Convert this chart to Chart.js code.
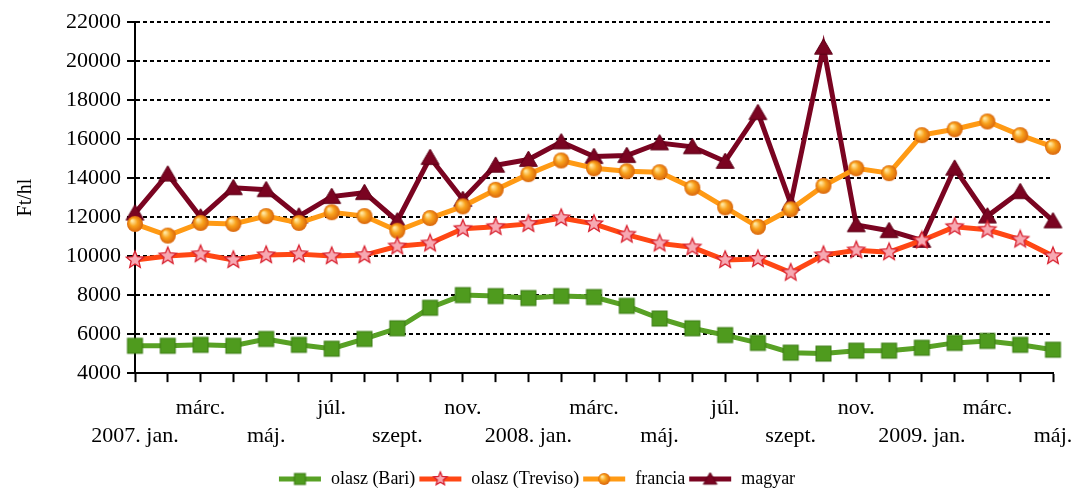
<!DOCTYPE html>
<html>
<head>
<meta charset="utf-8">
<script src="https://cdn.jsdelivr.net/npm/chart.js@4/dist/chart.umd.min.js"></script>
<style>
  html, body { margin: 0; padding: 0; background: #fff; }
  #wrap { width: 1075px; height: 489px; }
</style>
</head>
<body>
<div id="wrap"><canvas id="chart"></canvas></div>
<script>
// monthly data, 2007 jan .. 2009 máj
const months = [
  "2007. jan.", "febr.", "márc.", "ápr.", "máj.", "jún.", "júl.", "aug.", "szept.", "okt.", "nov.", "dec.",
  "2008. jan.", "febr.", "márc.", "ápr.", "máj.", "jún.", "júl.", "aug.", "szept.", "okt.", "nov.", "dec.",
  "2009. jan.", "febr.", "márc.", "ápr.", "máj."
];
const seriesNames = ["olasz (Bari)", "olasz (Treviso)", "francia", "magyar"];

const bari = [5400, 5400, 5450, 5400, 5750, 5450, 5250, 5750, 6300, 7350, 8000, 7950,
  7850, 7950, 7900, 7450, 6800, 6300, 5950, 5550, 5050, 5000, 5150, 5150,
  5300, 5550, 5650, 5450, 5200];
const treviso = [9800, 10000, 10100, 9800, 10050, 10100, 10000, 10050, 10500, 10650, 11400, 11500,
  11650, 11950, 11650, 11100, 10650, 10450, 9800, 9850, 9150, 10050, 10300, 10200,
  10800, 11500, 11350, 10850, 10000];
const francia = [11650, 11050, 11700, 11650, 12050, 11700, 12250, 12050, 11300, 11950, 12550, 13400,
  14200, 14900, 14500, 14350, 14300, 13500, 12500, 11500, 12400, 13600, 14500, 14250,
  16200, 16500, 16900, 16200, 15600];
const magyar = [12200, 14200, 12000, 13500, 13400, 12050, 13050, 13250, 11800, 15050, 12900, 14650,
  14950, 15850, 15100, 15150, 15800, 15600, 14850, 17350, 12700, 20700, 11600, 11300,
  10800, 14500, 12050, 13300, 11800];

const yTicks = { min: 4000, max: 22000, step: 2000 };
const FONT = "'Liberation Serif', 'DejaVu Serif', serif";

Chart.defaults.font.family = FONT;
Chart.defaults.font.size = 17;
Chart.defaults.color = "#000";

// marker images
function marker(kind, s) {
  const c = document.createElement("canvas");
  c.width = s + 4; c.height = s + 4;
  const g = c.getContext("2d");
  const cx = c.width / 2, cy = c.height / 2, r = s / 2;
  if (kind === "square") {
    g.fillStyle = "#4f9b1e"; g.strokeStyle = "#3c7d15"; g.lineWidth = 1;
    g.fillRect(cx - r, cy - r, s, s); g.strokeRect(cx - r, cy - r, s, s);
  } else if (kind === "star") {
    g.beginPath();
    for (let i = 0; i < 10; i++) {
      const a = -Math.PI / 2 + i * Math.PI / 5;
      const rr = i % 2 ? r * 0.45 : r;
      g.lineTo(cx + rr * Math.cos(a), cy + rr * Math.sin(a));
    }
    g.closePath();
    g.fillStyle = "#f7a8b2"; g.fill();
    g.strokeStyle = "#d8202e"; g.lineWidth = 1.3; g.stroke();
  } else if (kind === "ball") {
    const gr = g.createRadialGradient(cx - r * 0.35, cy - r * 0.4, r * 0.1, cx, cy, r);
    gr.addColorStop(0, "#ffe7a0"); gr.addColorStop(0.45, "#f9a21c"); gr.addColorStop(1, "#d9650a");
    g.beginPath(); g.arc(cx, cy, r, 0, Math.PI * 2); g.fillStyle = gr; g.fill();
  } else if (kind === "tri") {
    g.beginPath();
    g.moveTo(cx, cy - r); g.lineTo(cx + r * 1.05, cy + r * 0.8); g.lineTo(cx - r * 1.05, cy + r * 0.8);
    g.closePath();
    g.fillStyle = "#7a0421"; g.fill(); g.strokeStyle = "#5e0018"; g.lineWidth = 1; g.stroke();
  }
  return c;
}
function legendIcon(kind, color, s) {
  const c = document.createElement("canvas");
  c.width = 44; c.height = 18;
  const g = c.getContext("2d");
  g.strokeStyle = color; g.lineWidth = 5;
  g.beginPath(); g.moveTo(1, 9); g.lineTo(43, 9); g.stroke();
  const m = marker(kind, s);
  g.drawImage(m, 22 - m.width / 2, 9 - m.height / 2);
  return c;
}

const styles = [
  { data: bari, color: "#58a125", kind: "square", size: 15 },
  { data: treviso, color: "#ff4714", kind: "star", size: 18 },
  { data: francia, color: "#ff9a14", kind: "ball", size: 16 },
  { data: magyar, color: "#7a0421", kind: "tri", size: 17 }
];

const datasets = styles.map((st, i) => ({
  label: seriesNames[i],
  data: st.data,
  borderColor: st.color,
  backgroundColor: st.color,
  borderWidth: 5,
  pointStyle: marker(st.kind, st.size),
  pointRadius: 8,
  tension: 0
}));

// two-row axis labels: every second month, alternating rows
function tickLabel(i) {
  if (i % 2) return "";
  return (i / 2) % 2 ? [months[i], ""] : ["", months[i]];
}

new Chart(document.getElementById("chart"), {
  type: "line",
  data: { labels: months, datasets: datasets },
  options: {
    responsive: true,
    maintainAspectRatio: false,
    animation: false,
    layout: { padding: { left: 20, right: 22, top: 22, bottom: -9 } },
    plugins: {
      tooltip: { enabled: false },
      legend: {
        position: "bottom",
        labels: {
          usePointStyle: true,
          pointStyleWidth: 44,
          boxHeight: 17,
          padding: 3,
          color: "#000",
          font: { family: FONT, size: 18 },
          generateLabels: (chart) => chart.data.datasets.map((ds, i) => ({
            text: ds.label,
            pointStyle: legendIcon(styles[i].kind, styles[i].color, styles[i].size - 4),
            fillStyle: ds.borderColor,
            strokeStyle: ds.borderColor,
            fontColor: "#000",
            lineWidth: 0,
            hidden: false,
            datasetIndex: i
          }))
        }
      }
    },
    scales: {
      x: {
        offset: false,
        afterFit: (s) => { s.paddingRight = 0; s.height += 5; },
        grid: { drawOnChartArea: false, drawTicks: true, tickLength: 9, tickColor: "#000", tickWidth: 2 },
        border: { display: true, color: "#000", width: 2 },
        ticks: {
          autoSkip: false, maxRotation: 0, minRotation: 0, padding: 12,
          color: "#000", font: { family: FONT, size: 22, lineHeight: 1.27 },
          callback: (v, i) => tickLabel(i)
        }
      },
      y: {
        min: yTicks.min, max: yTicks.max,
        afterFit: (s) => { s.width = 115; },
        grid: { color: "#000", lineWidth: 2, tickLength: 8, tickColor: "#000", tickWidth: 2 },
        border: { display: true, color: "#000", width: 2, dash: [4, 3] },
        ticks: {
          stepSize: yTicks.step, padding: 6, color: "#000", font: { family: FONT, size: 22 },
          callback: (v) => String(v)
        },
        title: { display: true, text: "Ft/hl", color: "#000", font: { family: FONT, size: 20 }, padding: { top: -6, bottom: 0 } }
      }
    }
  }
});
</script>
</body>
</html>
